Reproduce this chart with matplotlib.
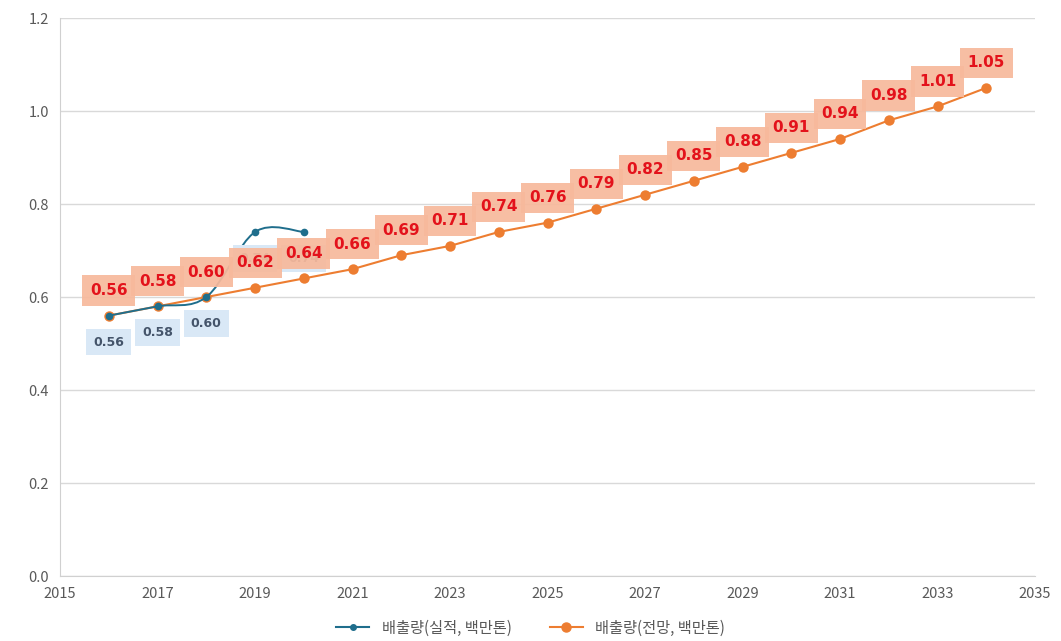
import numpy as np
import matplotlib
matplotlib.use("Agg")
import matplotlib.pyplot as plt
from matplotlib.path import Path
from matplotlib.patches import PathPatch
from matplotlib.lines import Line2D

plt.rcParams['font.family'] = ['Noto Sans CJK KR', 'DejaVu Sans']

# data
actual_years = [2016, 2017, 2018, 2019, 2020]
actual_vals = [0.56, 0.58, 0.60, 0.74, 0.74]
actual_labels = ['0.56', '0.58', '0.60', '0.74', '0.74']

fc_years = list(range(2016, 2035))
fc_vals = [0.56, 0.58, 0.60, 0.62, 0.64, 0.66, 0.69, 0.71, 0.74, 0.76,
           0.79, 0.82, 0.85, 0.88, 0.91, 0.94, 0.98, 1.01, 1.05]
fc_labels = ['%.2f' % v for v in fc_vals]

name_actual = '배출량(실적, 백만톤)'
name_fc = '배출량(전망, 백만톤)'

blue = '#1f6e8c'
orange = '#ed7d31'
gray = '#595959'

fig = plt.figure(figsize=(10.61, 6.41), dpi=100)
ax = fig.add_axes([0.0566, 0.1014, 0.919, 0.8704])

# forecast line
ax.plot(fc_years, fc_vals, color=orange, lw=1.5, marker='o', ms=7.5,
        markeredgewidth=0, zorder=3)

# actual line, smoothed like excel (bezier through the points)
pts = np.column_stack([actual_years, actual_vals]).astype(float)
ext = np.vstack([pts[0], pts, pts[-1]])
verts = [tuple(pts[0])]
codes = [Path.MOVETO]
for i in range(len(pts) - 1):
    p0, p1, p2, p3 = ext[i], ext[i + 1], ext[i + 2], ext[i + 3]
    c1 = p1 + (p2 - p0) / 6
    c2 = p2 - (p3 - p1) / 6
    verts += [tuple(c1), tuple(c2), tuple(p2)]
    codes += [Path.CURVE4] * 3
ax.add_patch(PathPatch(Path(verts, codes), facecolor='none',
                       edgecolor=blue, lw=1.4, zorder=4))
ax.plot(actual_years, actual_vals, ls='none', marker='o', ms=5.5,
        color=blue, markeredgewidth=0, zorder=5)

# labels
for x, y, t in zip(actual_years, actual_vals, actual_labels):
    ax.annotate(t, (x, y), xytext=(0, -19), textcoords='offset points',
                ha='center', va='center', fontsize=9, fontweight='bold',
                color='#44546a', family='DejaVu Sans', zorder=6,
                bbox=dict(boxstyle='square,pad=0.55', fc='#d9e8f6', ec='none'))
for x, y, t in zip(fc_years, fc_vals, fc_labels):
    ax.annotate(t, (x, y), xytext=(0, 18), textcoords='offset points',
                ha='center', va='center', fontsize=11, fontweight='bold',
                color='#e3121b', family='DejaVu Sans', zorder=7,
                bbox=dict(boxstyle='square,pad=0.5', fc='#f7b99c', ec='none',
                          alpha=0.93))

ax.set_xlim(2015, 2035)
ax.set_ylim(0, 1.2)
ax.set_xticks(range(2015, 2036, 2))
ax.set_yticks(np.arange(0, 1.21, 0.2))
ax.set_yticklabels(['%.1f' % v for v in np.arange(0, 1.21, 0.2)])
ax.tick_params(length=0, labelsize=10.5, labelcolor=gray, pad=8)
ax.tick_params(axis='x', pad=8)
ax.grid(axis='y', color='#d9d9d9', lw=1)
ax.set_axisbelow(True)
for s in ['top', 'right']:
    ax.spines[s].set_visible(False)
for s in ['left', 'bottom']:
    ax.spines[s].set_color('#d0d0d0')

handles = [Line2D([], [], color=blue, marker='o', ms=4, lw=1.5),
           Line2D([], [], color=orange, marker='o', ms=6.5, lw=1.5)]
fig.legend(handles, [name_actual, name_fc], loc='center', ncol=2,
           bbox_to_anchor=(0.5, 0.02), frameon=False, fontsize=11,
           labelcolor=gray, handlelength=2.2, columnspacing=2.5)

fig.savefig('out.png', dpi=100)
